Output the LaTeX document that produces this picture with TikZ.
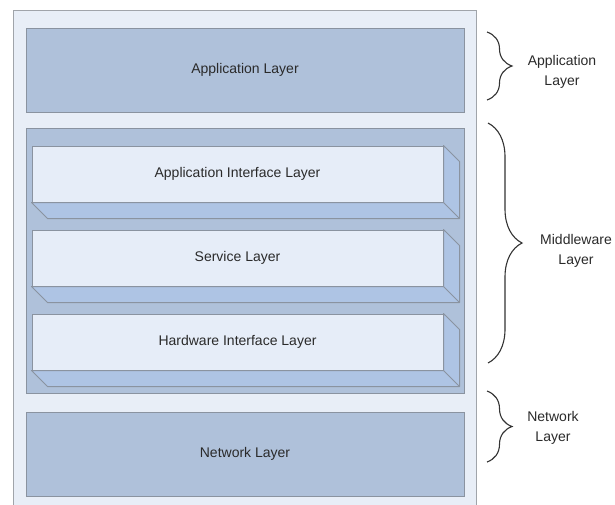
\documentclass[tikz,border=0pt]{standalone}
\usepackage{fontspec}
\setmainfont{Liberation Sans}
\usetikzlibrary{decorations.pathreplacing}
\definecolor{outerfill}{HTML}{E8EEF7}
\definecolor{outerline}{HTML}{A0A4AA}
\definecolor{layerfill}{HTML}{AFC1DA}
\definecolor{layerline}{HTML}{8A93A0}
\definecolor{frontfill}{HTML}{E6EDF8}
\definecolor{sidefill}{HTML}{AEC4E4}
\definecolor{txt}{HTML}{2A2A2A}
\begin{document}
\begin{tikzpicture}[x=1pt,y=-1pt,
  outerbox/.style={draw=outerline, fill=outerfill, line width=1pt, inner sep=0pt},
  layerbox/.style={draw=layerline, fill=layerfill, line width=1pt, minimum width=438, minimum height=84, inner sep=0pt, text=txt, font=\fontsize{14}{17}\selectfont},
  frontbox/.style={draw=layerline, fill=frontfill, line width=1pt, minimum width=411, minimum height=56, inner sep=0pt, text=txt, font=\fontsize{14}{17}\selectfont},
  sideface/.style={draw=layerline, fill=sidefill, line width=1pt, line join=round},
  bracestyle/.style={draw=black!80, line width=1.1pt, decorate, decoration={brace, amplitude=#1}},
  lbl/.style={align=center, text=txt, inner sep=0pt, font=\fontsize{14}{20}\selectfont}]
\useasboundingbox (0,0) rectangle (615,504);
\clip (0,0) rectangle (615,504);
\fill[white] (0,0) rectangle (615,504);
\node[outerbox, minimum width=463, minimum height=510, anchor=north west] (outer) at (13,10) {};
\node[layerbox] (app) at (245,70) {Application Layer};
\node[layerbox, minimum height=265] (mid) at (245,260.5) {};
\node[layerbox] (net) at (245,454) {Network Layer};
% inner 3D layers
\node[frontbox] (ail) at (237.5,174) {Application Interface Layer};
\node[frontbox] (sl) at (237.5,258) {Service Layer};
\node[frontbox] (hil) at (237.5,342) {Hardware Interface Layer};
\foreach \n in {ail,sl,hil}{
  \draw[sideface] (\n.north east) -- ++(16,16) -- ([shift={(16,16)}]\n.south east)
     -- ([shift={(16,16)}]\n.south west) -- (\n.south west) -- (\n.south east) -- cycle;
  \draw[sideface] (\n.south east) -- ++(16,16);
}
% braces
\coordinate (b1t) at (487,32);
\coordinate (b1b) at (487,100);
\coordinate (b2t) at (488,123);
\coordinate (b2b) at (488,363);
\coordinate (b3t) at (487,391);
\coordinate (b3b) at (487,462);
\draw[bracestyle=25] (b1t) -- (b1b);
\draw[bracestyle=34] (b2t) -- (b2b);
\draw[bracestyle=25] (b3t) -- (b3b);
\node[lbl] (lapp) at (562,72) {Application\\Layer};
\node[lbl] (lmid) at (576,251) {Middleware\\Layer};
\node[lbl] (lnet) at (553,428) {Network\\Layer};
\end{tikzpicture}
\end{document}
